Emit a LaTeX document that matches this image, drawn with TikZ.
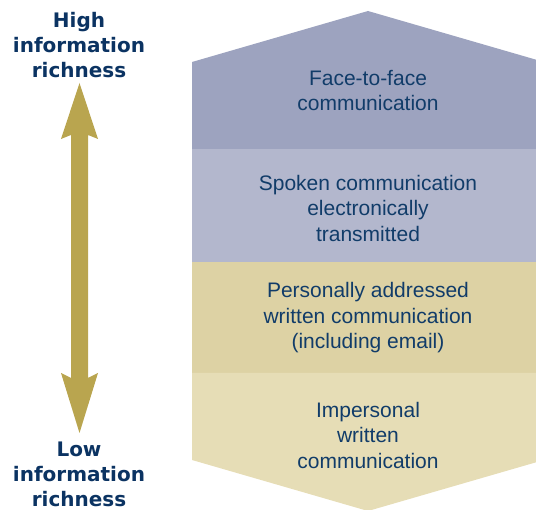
\documentclass[tikz,border=0pt]{standalone}
\usepackage{fontspec}
\setmainfont{Liberation Sans}
\newfontfamily\headfont{DejaVu Sans}
\definecolor{bandA}{HTML}{9DA3BF}
\definecolor{bandB}{HTML}{B3B7CD}
\definecolor{bandC}{HTML}{DDD2A4}
\definecolor{bandD}{HTML}{E6DDB6}
\definecolor{gold}{HTML}{B9A54F}
\definecolor{navy}{HTML}{113C69}
\definecolor{deepnavy}{HTML}{0B3362}
\begin{document}
\begin{tikzpicture}[x=1pt,y=-1pt,
  bandtext/.style={text=navy,align=center,font=\fontsize{21}{25.5}\selectfont},
  endlabel/.style={text=deepnavy,align=center,font=\headfont\bfseries\fontsize{20}{25}\selectfont}]
\useasboundingbox (0,0) rectangle (536,510);
\clip (0,0) rectangle (536,510);

% stacked bands forming the double chevron
\fill[bandA] (192,149) -- (192,62) -- (368,11) -- (544,62) -- (544,149) -- cycle;
\fill[bandB] (192,149) rectangle (544,262);
\fill[bandC] (192,262) rectangle (544,373);
\fill[bandD] (192,373) -- (192,460) -- (368,511) -- (544,460) -- (544,373) -- cycle;

\node[bandtext] (f2f) at (368,90.5) {Face-to-face\\communication};
\node[bandtext] (spoken) at (368,208) {Spoken communication\\electronically\\transmitted};
\node[bandtext] (personal) at (368,318) {Personally addressed\\written communication\\(including email)};
\node[bandtext] (impersonal) at (368,435) {Impersonal\\written\\communication};

% end labels of the richness scale
\node[endlabel] (high) at (79,45) {High\\information\\richness};
\node[endlabel] (low) at (79,474) {Low\\information\\richness};

% double-headed scale arrow
\fill[gold] (79.5,83) -- (98,139) -- (88,135) -- (88,378) -- (98,373) -- (79.5,433)
  -- (61,373) -- (71,378) -- (71,135) -- (61,139) -- cycle;
\end{tikzpicture}
\end{document}
